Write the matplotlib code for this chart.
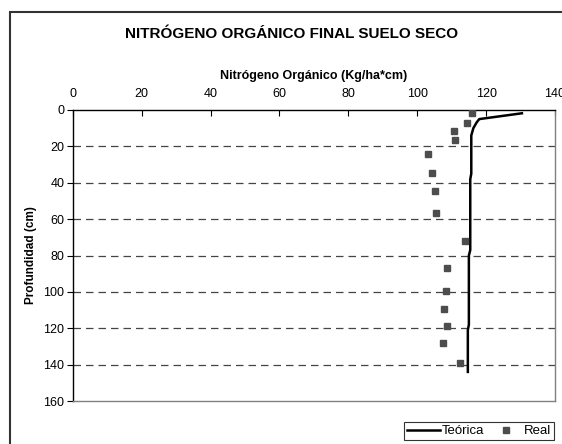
import matplotlib.pyplot as plt
from matplotlib.patches import Rectangle

plt.rcParams['font.family'] = ['Liberation Sans', 'DejaVu Sans']

# Real measured points
real_x = [115.9, 114.5, 110.7, 111.1, 103.1, 104.3, 105.1, 105.5, 113.8,
          108.7, 108.3, 107.7, 108.7, 107.4, 112.3]
real_d = [1.8, 7.0, 11.5, 16.7, 24.0, 34.5, 44.3, 56.8, 71.9,
          87.0, 99.5, 109.5, 119.0, 128.2, 139.2]

# theoretical profile
teo_x = [130.4, 118.0, 117.2, 116.3, 115.7, 115.7, 115.4, 115.4, 115.0, 115.0, 114.7, 114.7]
teo_d = [1.8, 5.0, 7.0, 10.0, 14.0, 35.0, 38.0, 77.0, 80.0, 118.0, 121.0, 144.0]

xticks = [0, 20, 40, 60, 80, 100, 120, 140]
yticks = [0, 20, 40, 60, 80, 100, 120, 140, 160]

fig = plt.figure(figsize=(5.62, 4.44), dpi=100)
# outer chart frame (cut at right/bottom like the reference)
fig.patches.append(Rectangle((10/562, -0.1), 1.2, 1 - 12/444 + 0.1,
                             transform=fig.transFigure, fill=False,
                             edgecolor='#333333', lw=1.5))

ax = fig.add_axes([72.7/562, 1 - 401/444, (555 - 72.7)/562, (401 - 110)/444])

for d in yticks[1:-1]:
    ax.axhline(d, color='#444444', lw=0.9, ls=(0, (6, 4)), zorder=1)

ax.plot(teo_x, teo_d, color='black', lw=1.8, label='Teórica', zorder=3)
ax.plot(real_x, real_d, ls='none', marker='s', ms=4.5, color='#4d4d4d',
        label='Real', zorder=4)

ax.set_xlim(0, 140)
ax.set_ylim(160, 0)
ax.xaxis.tick_top()
ax.xaxis.set_label_position('top')
ax.set_xticks(xticks)
ax.set_yticks(yticks)
ax.tick_params(axis='x', direction='in', length=4, labelsize=9, pad=7)
ax.tick_params(axis='y', direction='out', length=4, labelsize=9, pad=2)
ax.set_xlabel('Nitrógeno Orgánico (Kg/ha*cm)', fontsize=9, fontweight='bold', labelpad=7)
ax.set_ylabel('Profundidad (cm)', fontsize=8.5, fontweight='bold', labelpad=10)
ax.yaxis.set_label_coords(-0.075, 0.5)

ax.spines['left'].set_color('black')
ax.spines['top'].set_color('black')
ax.spines['right'].set_color('#808080')
ax.spines['bottom'].set_color('#808080')
for s in ax.spines.values():
    s.set_linewidth(1.0)

fig.text(292/562, 1 - 34/444, 'NITRÓGENO ORGÁNICO FINAL SUELO SECO',
         ha='center', va='center', fontsize=11, fontweight='bold')

leg = fig.legend(loc='lower right', bbox_to_anchor=(554/562, 1 - 440/444),
                 ncol=2, fontsize=9.5, frameon=True, fancybox=False,
                 handlelength=2.5, handletextpad=0.15, columnspacing=0.4,
                 borderpad=0.2, borderaxespad=0)
leg.get_frame().set_edgecolor('black')
leg.get_frame().set_linewidth(0.8)

fig.savefig('out.png', dpi=100)
